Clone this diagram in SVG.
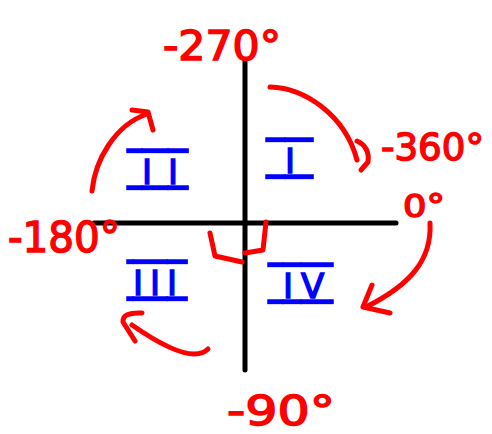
<svg xmlns="http://www.w3.org/2000/svg" width="492" height="434" viewBox="0 0 492 434">
<style>
.ax{stroke:#000;stroke-width:5;stroke-linecap:round;fill:none}
.rd{stroke:#ff0000;stroke-width:5;stroke-linecap:round;stroke-linejoin:round;fill:none}
.ang{font-family:"DejaVu Sans",sans-serif;fill:#ff0000;stroke:#ff0000;stroke-width:1.5}
.q{font-family:"DejaVu Sans",sans-serif;font-size:34px;fill:#0000ff;stroke:#0000ff;stroke-width:1.5;text-decoration:underline overline;text-decoration-thickness:5px;text-decoration-color:#0000ff}
</style>
<rect width="492" height="434" fill="#fff"/>
<g id="axes">
<path class="ax" d="M245,60 V370"/>
<path class="ax" d="M94,223 H396"/>
</g>
<g id="right-angle">
<path class="rd" d="M210,233 L215,256 L242,262"/>
<path class="rd" d="M266,222 L263,250 L245,253"/>
</g>
<g id="quadrants">
<text id="q1" class="q" x="266" y="173"><tspan letter-spacing="8.2">&#160;</tspan><tspan letter-spacing="18">I</tspan></text>
<text id="q2" class="q" x="127" y="184"><tspan letter-spacing="4.2">&#160;</tspan><tspan letter-spacing="16">I</tspan><tspan letter-spacing="10">I</tspan></text>
<text id="q3" class="q" x="127" y="295"><tspan letter-spacing="-4.8">&#160;</tspan><tspan letter-spacing="7">II</tspan><tspan letter-spacing="10">I</tspan></text>
<text id="q4" class="q" x="268" y="298"><tspan letter-spacing="4.2">&#160;</tspan><tspan letter-spacing="8">I</tspan><tspan letter-spacing="8.7">V</tspan></text>
</g>
<g id="angles">
<text id="a270" class="ang" x="163" y="60" font-size="40" textLength="118" lengthAdjust="spacingAndGlyphs">-270°</text>
<text id="a360" class="ang" x="381" y="160" font-size="37" textLength="103" lengthAdjust="spacingAndGlyphs">-360°</text>
<text id="a0" class="ang" x="403" y="217" font-size="32" textLength="42" lengthAdjust="spacingAndGlyphs">0°</text>
<text id="a180" class="ang" x="8" y="252" font-size="42" textLength="112" lengthAdjust="spacingAndGlyphs">-180°</text>
<text id="a90" class="ang" x="227" y="425" font-size="40" textLength="108" lengthAdjust="spacingAndGlyphs">-90°</text>
</g>
<g id="connectors">
<path class="rd" d="M270,87 C305,88 345,115 357,160"/>
<path class="rd" d="M357,141 Q370,147 368,162 L361,170"/>
<path class="rd" d="M92,191 C95,160 115,125 147,114"/>
<path class="rd" d="M132,110 L148,112 L153,130"/>
<path class="rd" d="M430,223 C432,260 410,285 366,307"/>
<path class="rd" d="M372,285 L363,307 L390,313"/>
<path class="rd" d="M208,349 C195,362 165,348 132,325"/>
<path class="rd" d="M142,313 Q122,312 123,322 L135,341"/>
</g>
</svg>
